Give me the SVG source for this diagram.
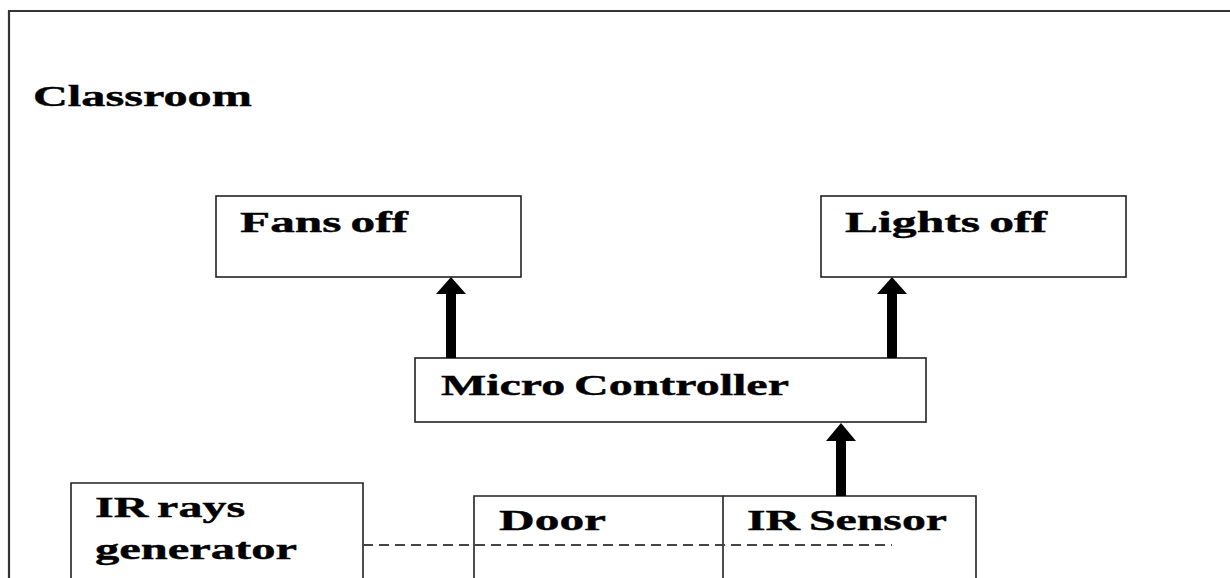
<svg xmlns="http://www.w3.org/2000/svg" width="1230" height="578" viewBox="0 0 1230 578">
  <style>
    .box { fill: #fff; stroke: #222; stroke-width: 1.6; }
    .lbl { font-family: "Liberation Serif", "Times New Roman", serif; font-weight: bold; font-size: 30px; fill: #000; stroke: #000; stroke-width: 0.4; word-spacing: -2px; }
    .frame { fill: none; stroke: #333; stroke-width: 2.2; }
    .shaft { stroke: #000; stroke-width: 10; fill: none; }
    .head { fill: #000; }
    .ray { stroke: #444; stroke-width: 1.8; stroke-dasharray: 10 6; fill: none; }
  </style>
  <rect width="1230" height="578" fill="#fff"/>
  <g id="classroom">
    <polyline class="frame" points="9,578 9,11 1230,11"/>
    <text class="lbl" transform="translate(33,106) scale(1.66,1)" textLength="131.9" lengthAdjust="spacingAndGlyphs">Classroom</text>
  </g>
  <g id="fans">
    <rect class="box" x="216" y="196" width="305" height="81"/>
    <text class="lbl" transform="translate(240,232) scale(1.66,1)" textLength="101.2" lengthAdjust="spacingAndGlyphs">Fans off</text>
  </g>
  <g id="lights">
    <rect class="box" x="821" y="196" width="305" height="81"/>
    <text class="lbl" transform="translate(845,232) scale(1.66,1)" textLength="121.7" lengthAdjust="spacingAndGlyphs">Lights off</text>
  </g>
  <g id="micro">
    <rect class="box" x="415" y="358" width="511" height="64"/>
    <text class="lbl" transform="translate(441,395) scale(1.66,1)" textLength="209.6" lengthAdjust="spacingAndGlyphs">Micro Controller</text>
  </g>
  <g id="irgen">
    <polyline class="box" points="71,578 71,483 363,483 363,578"/>
    <text class="lbl" transform="translate(95,517) scale(1.66,1)" textLength="90.4" lengthAdjust="spacingAndGlyphs">IR rays</text>
    <text class="lbl" transform="translate(95,559) scale(1.66,1)" textLength="121.7" lengthAdjust="spacingAndGlyphs">generator</text>
  </g>
  <g id="door">
    <polyline class="box" points="474,578 474,496 723,496 723,578"/>
    <text class="lbl" transform="translate(499,530) scale(1.66,1)" textLength="64.5" lengthAdjust="spacingAndGlyphs">Door</text>
  </g>
  <g id="sensor">
    <polyline class="box" points="723,496 976,496 976,578"/>
    <text class="lbl" transform="translate(747,530) scale(1.66,1)" textLength="120.5" lengthAdjust="spacingAndGlyphs">IR Sensor</text>
  </g>
  <g id="connectors">
    <line class="ray" x1="363" y1="545" x2="892" y2="545"/>
    <line class="shaft" x1="451" y1="358" x2="451" y2="292"/>
    <polygon class="head" points="451,277 436,294 466,294"/>
    <line class="shaft" x1="892" y1="358" x2="892" y2="292"/>
    <polygon class="head" points="892,277 877,294 907,294"/>
    <line class="shaft" x1="841" y1="496" x2="841" y2="439"/>
    <polygon class="head" points="841,423 826,441 856,441"/>
  </g>
</svg>
